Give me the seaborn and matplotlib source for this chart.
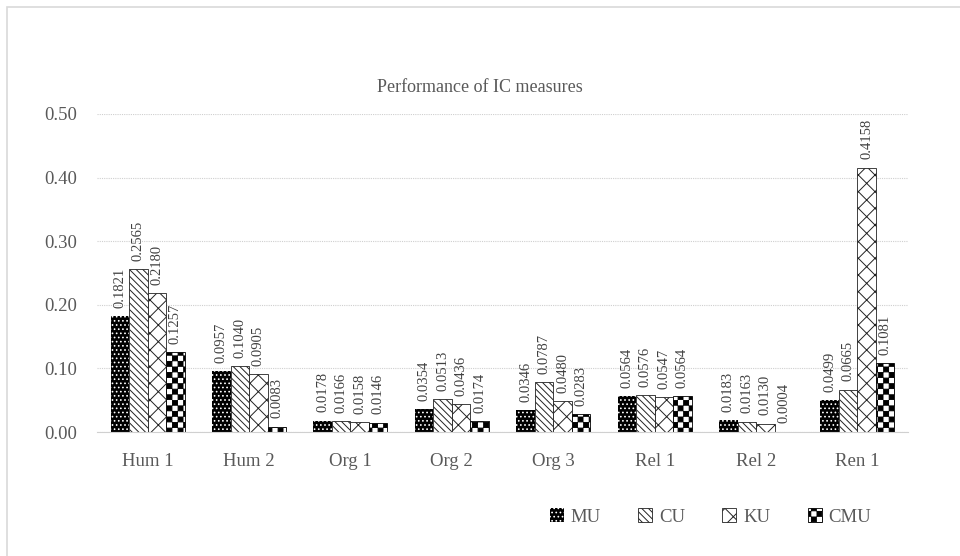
import matplotlib

matplotlib.use("Agg")
import matplotlib.pyplot as plt
import matplotlib.patches as mpatches
from matplotlib import hatch as mhatch
from matplotlib.path import Path as MPath
import numpy as np
import pandas as pd
import seaborn as sns

GROUPS = ["Hum 1", "Hum 2", "Org 1", "Org 2", "Org 3", "Rel 1", "Rel 2", "Ren 1"]
MEASURES = ["MU", "CU", "KU", "CMU"]
MU = [0.1821, 0.0957, 0.0178, 0.0354, 0.0346, 0.0564, 0.0183, 0.0499]
CU = [0.2565, 0.1040, 0.0166, 0.0513, 0.0787, 0.0576, 0.0163, 0.0665]
KU = [0.2180, 0.0905, 0.0158, 0.0436, 0.0480, 0.0547, 0.0130, 0.4158]
CMU = [0.1257, 0.0083, 0.0146, 0.0174, 0.0283, 0.0564, 0.0004, 0.1081]
YTICKS = [0.0, 0.1, 0.2, 0.3, 0.4, 0.5]

TEXT = "#595959"


class CheckerHatch(mhatch.HatchPatternBase):
    # checkerboard fill, triggered by "O" (large circles are not used here)
    def __init__(self, hatch, density):
        self.num_cells = 18 if "O" in hatch else 0
        self.num_vertices = (self.num_cells ** 2 // 2) * 5

    def set_vertices_and_codes(self, vertices, codes):
        n = self.num_cells
        square = np.array([[0.06, 0.06], [0.94, 0.06], [0.94, 0.94], [0.06, 0.94], [0.06, 0.06]]) / n
        parts = [square + [i / n, j / n] for i in range(n) for j in range(n) if (i + j) % 2 == 0]
        vertices[:] = np.concatenate(parts)
        codes[:] = np.tile(
            [MPath.MOVETO, MPath.LINETO, MPath.LINETO, MPath.LINETO, MPath.CLOSEPOLY], len(parts)
        )


mhatch._hatch_types = [t for t in mhatch._hatch_types if t is not mhatch.LargeCircles] + [CheckerHatch]

STYLES = {
    "MU": dict(facecolor="black", edgecolor="white", hatch="....", linewidth=0),
    "CU": dict(facecolor="white", edgecolor="#222222", hatch="\\\\\\\\\\", linewidth=0.6),
    "KU": dict(facecolor="white", edgecolor="#222222", hatch="xx", linewidth=0.6),
    "CMU": dict(facecolor="white", edgecolor="black", hatch="O", linewidth=0.6),
}

df = pd.DataFrame(
    {
        "group": GROUPS * 4,
        "measure": [m for m in MEASURES for _ in GROUPS],
        "value": MU + CU + KU + CMU,
    }
)

sns.set_style("white")
plt.rcParams["font.family"] = ["Liberation Serif", "DejaVu Serif"]
plt.rcParams["hatch.linewidth"] = 0.7

fig = plt.figure(figsize=(9.6, 5.56), dpi=100)
ax = fig.add_axes([0.101, 0.223, 0.845, 0.572])

sns.barplot(
    data=df, x="group", y="value", hue="measure", order=GROUPS, hue_order=MEASURES,
    width=0.73, gap=0, palette=["black", "white", "white", "white"], legend=False, ax=ax,
)

for measure, container in zip(MEASURES, ax.containers):
    for bar in container:
        bar.set(**STYLES[measure])
    vals = df.loc[df["measure"] == measure, "value"].tolist()
    ax.bar_label(
        container, labels=[f"{v:.4f}" for v in vals], rotation=90, padding=6,
        fontsize=10.5, color="#404040",
    )

ax.set_ylim(0, 0.5)
ax.set_yticks(YTICKS)
ax.set_yticklabels([f"{t:.2f}" for t in YTICKS])
ax.set_xlabel("")
ax.set_ylabel("")
ax.yaxis.grid(True, color="#cfcfcf", linewidth=0.8, linestyle=(0, (1, 1)))
ax.set_axisbelow(True)
for side in ("top", "right", "left"):
    ax.spines[side].set_visible(False)
ax.spines["bottom"].set_color("#d0d0d0")
ax.tick_params(axis="x", length=0, pad=15, labelsize=13.5, labelcolor=TEXT)
ax.tick_params(axis="y", length=0, pad=14, labelsize=13.5, labelcolor=TEXT)

fig.text(0.5, 1 - 87 / 556, "Performance of IC measures", ha="center", va="center",
         fontsize=13, color=TEXT)

handles = [mpatches.Patch(**STYLES[m]) for m in MEASURES]
fig.legend(
    handles, MEASURES, loc="center", bbox_to_anchor=(0.74, 1 - 517 / 556), ncol=4,
    frameon=False, handlelength=0.75, handleheight=0.75, handletextpad=0.35,
    columnspacing=2.0, fontsize=13.5, labelcolor=TEXT,
)

# light frame around the figure, as in the source image
fig.add_artist(mpatches.Rectangle(
    (7 / 960, -0.1), 1.2, 1.1 - 7 / 556, transform=fig.transFigure,
    fill=False, edgecolor="#d9d9d9", linewidth=1.2,
))

fig.savefig("out.png", dpi=100)
